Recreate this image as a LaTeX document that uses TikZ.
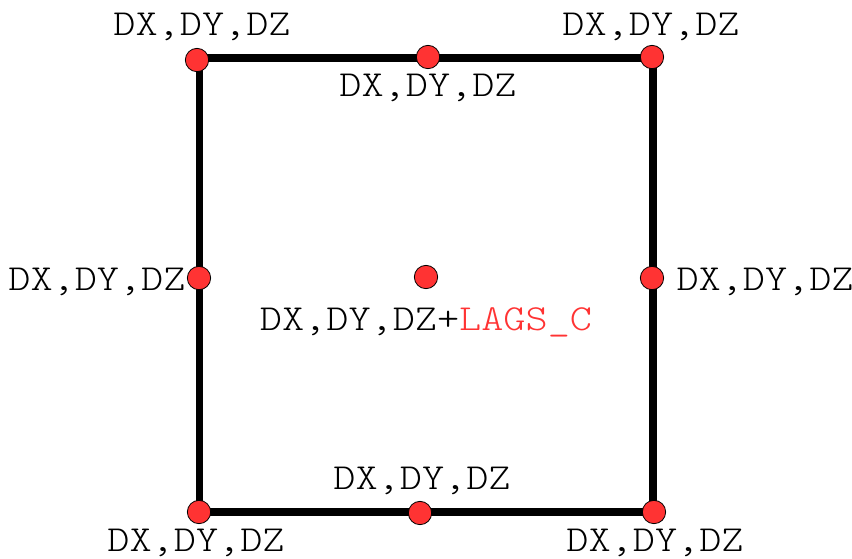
\documentclass[tikz,border=0pt]{standalone}
\usepackage{fontspec}
\setmonofont{lmmonolt10-regular.otf}[FakeStretch=1.15]
\definecolor{dotred}{RGB}{255,51,51}
\tikzset{every picture/.style={line width=0.75pt}}
\tikzset{
  dof/.style={circle,fill=dotred,draw=black,line width=0.6pt,minimum size=17.5pt,inner sep=0pt},
  doftext/.style={inner sep=0.75pt,font=\fontsize{27.5}{30}\ttfamily},
  frame/.style={line width=5.6pt,line join=miter}
}
\begin{document}
\begin{tikzpicture}[x=0.75pt,y=0.75pt,yscale=-1,xscale=1]
\useasboundingbox (0,0) rectangle (852,558);

% frame corners
\coordinate (c1) at (199.5,58);
\coordinate (c2) at (653,58);
\coordinate (c3) at (653,512);
\coordinate (c4) at (199.5,512);
\draw [frame] (c1) -- (c2) -- (c3) -- (c4) -- cycle;

% Dots
\node [dof] (tl) at (197,60) {};
\node [dof] (tm) at (428,57) {};
\node [dof] (tr) at (652,57) {};
\node [dof] (ml) at (199,278) {};
\node [dof] (cc) at (426,277) {};
\node [dof] (mr) at (652,278) {};
\node [dof] (bl) at (199,512) {};
\node [dof] (bm) at (420,513) {};
\node [dof] (br) at (654,512) {};

% Text Nodes
\node [doftext] (ttl) at (202,27) {DX,DY,DZ};
\node [doftext] (ttr) at (651,27) {DX,DY,DZ};
\node [doftext] (ttm) at (428,88) {DX,DY,DZ};
\node [doftext,anchor=east] (tml) at (187,282) {DX,DY,DZ};
\node [doftext,anchor=west] (tmr) at (675,282) {DX,DY,DZ};
\node [doftext] (tcc) at (426,322) {DX,DY,DZ+\textcolor{dotred}{LAGS\_C}};
\node [doftext] (tbm) at (422,481) {DX,DY,DZ};
\node [doftext] (tbl) at (196,543) {DX,DY,DZ};
\node [doftext] (tbr) at (655,543) {DX,DY,DZ};

\end{tikzpicture}
\end{document}
